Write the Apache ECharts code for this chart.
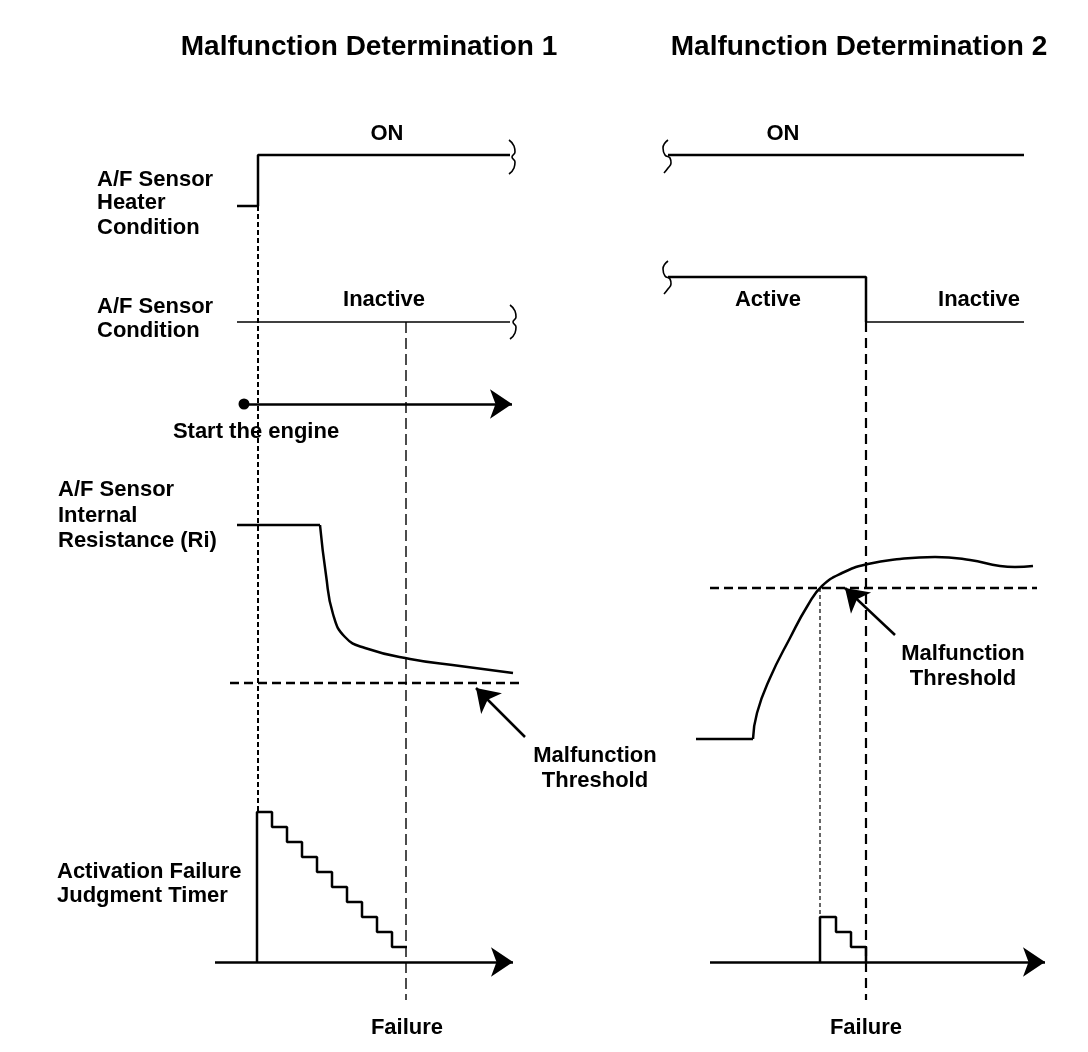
<!DOCTYPE html>
<html>
<head>
<meta charset="utf-8">
<script src="https://cdn.jsdelivr.net/npm/echarts@6/dist/echarts.min.js"></script>
<style>
html, body { margin: 0; padding: 0; background: #fff; }
#main { width: 1088px; height: 1052px; }
</style>
</head>
<body>
<div id="main"></div>
<script>
// diagram data (x = time, y = level, both in diagram units)
var heater1 = [[237, 206], [258, 206], [258, 155], [510, 155]];
var heater2 = [[668, 155], [1024, 155]];
var sensor1 = [[237, 322], [510, 322]];
var sensor2 = [[668, 277], [866, 277], [866, 322], [1024, 322]];
var ri1 = [[237, 525], [320, 525], [326, 575], [333, 614], [345, 637], [365, 648], [410, 659], [460, 666], [513, 673]];
var ri2 = [[696, 739], [753, 739], [757, 713], [770, 678], [790, 638], [808, 605], [822, 586], [842, 573], [868, 564], [900, 559], [935, 557], [970, 560], [1000, 566], [1015, 567], [1033, 566]];
var timer1 = [[257, 962], [257, 812], [272, 827], [287, 842], [302, 857], [317, 872], [332, 887], [347, 902], [362, 917], [377, 932], [392, 947], [407, 947]];
var timer2 = [[820, 962], [820, 917], [836, 932], [851, 947], [866, 962]];
var threshold1 = [[230, 683], [523, 683]];
var threshold2 = [[710, 588], [1037, 588]];
var heaterOnMark1 = [[258, 206], [258, 812]];
var failureMark1 = [[406, 322], [406, 1000]];
var failureMark2 = [[866, 322], [866, 1000]];
var crossMark2 = [[820, 588], [820, 917]];
var engineStart = [[244, 404]];
var squiggle = [[-2, -17], [3, -11], [4, -5], [1, 0], [4, 5], [3, 11], [-2, 17]];
var squiggleMirror = [[1, -17], [-4, -9], [-2, -2], [3, 1], [4, 6], [1, 11], [-3, 16]];
var breaksRight = [[511, 157], [512, 322]];
var breaksLeft = [[667, 157], [667, 278]];
var arrows = [
  [[244, 404], [512, 404]],
  [[215, 962], [513, 962]],
  [[710, 962], [1045, 962]],
  [[525, 737], [476, 688]],
  [[895, 635], [845, 588]]
];

var labels = [
  ['Malfunction Determination 1', 369, 47, 'center', 28],
  ['Malfunction Determination 2', 859, 47, 'center', 28],
  ['ON', 387, 134, 'center', 22],
  ['ON', 783, 134, 'center', 22],
  ['A/F Sensor', 97, 180, 'left', 22],
  ['Heater', 97, 203, 'left', 22],
  ['Condition', 97, 228, 'left', 22],
  ['Inactive', 384, 300, 'center', 22],
  ['Active', 768, 300, 'center', 22],
  ['Inactive', 979, 300, 'center', 22],
  ['A/F Sensor', 97, 307, 'left', 22],
  ['Condition', 97, 331, 'left', 22],
  ['Start the engine', 256, 432, 'center', 22],
  ['A/F Sensor', 58, 490, 'left', 22],
  ['Internal', 58, 516, 'left', 22],
  ['Resistance (Ri)', 58, 541, 'left', 22],
  ['Malfunction', 595, 756, 'center', 22],
  ['Threshold', 595, 781, 'center', 22],
  ['Malfunction', 963, 654, 'center', 22],
  ['Threshold', 963, 679, 'center', 22],
  ['Activation Failure', 57, 872, 'left', 22],
  ['Judgment Timer', 57, 896, 'left', 22],
  ['Failure', 407, 1028, 'center', 22],
  ['Failure', 866, 1028, 'center', 22]
];

var myChart = echarts.init(document.getElementById('main'));

function path(data, width, dash, extra) {
  var s = {
    type: 'line',
    data: data,
    symbol: 'none',
    animation: false,
    silent: true,
    lineStyle: { color: '#000', width: width, type: dash || 'solid' }
  };
  for (var k in extra) s[k] = extra[k];
  return s;
}

function shifted(shape, c) {
  return shape.map(function (p) { return [c[0] + p[0], c[1] + p[1]]; });
}

var series = [
  path(heater1, 2.5),
  path(heater2, 2.5),
  path(sensor1, 1.4),
  path(sensor2.slice(0, 3), 2.5),
  path(sensor2.slice(2), 1.4),
  path(ri1.slice(0, 2), 2.5),
  path(ri1.slice(1), 2.5, null, { smooth: 0.5 }),
  path(ri2.slice(0, 2), 2.5),
  path(ri2.slice(1), 2.5, null, { smooth: 0.5 }),
  path(timer1, 2.5, null, { step: 'end' }),
  path(timer2, 2.5, null, { step: 'end' }),
  path(threshold1, 2.5, [9, 5]),
  path(threshold2, 2.5, [9, 5]),
  path(heaterOnMark1, 2, [5, 3]),
  path(failureMark1, 1.4, [11, 5]),
  path(failureMark2, 2.2, [10, 6]),
  path(crossMark2, 1.2, [4, 3])
];

breaksRight.forEach(function (c) {
  series.push(path(shifted(squiggle, c), 1.6, null, { smooth: 0.5 }));
});
breaksLeft.forEach(function (c) {
  series.push(path(shifted(squiggleMirror, c), 1.6, null, { smooth: 0.5 }));
});

series.push({
  type: 'lines',
  coordinateSystem: 'cartesian2d',
  animation: false,
  silent: true,
  symbol: ['none', 'arrow'],
  symbolSize: [11, 22],
  lineStyle: { color: '#000', width: 2.5, opacity: 1, curveness: 0 },
  data: arrows.map(function (a) { return { coords: a }; })
});

series.push({
  type: 'scatter',
  data: engineStart,
  symbol: 'circle',
  symbolSize: 11,
  animation: false,
  silent: true,
  itemStyle: { color: '#000', opacity: 1 }
});

var option = {
  backgroundColor: '#fff',
  grid: { left: 0, right: 0, top: 0, bottom: 0 },
  xAxis: { type: 'value', min: 0, max: 1088, show: false },
  yAxis: { type: 'value', min: 0, max: 1052, inverse: true, show: false },
  series: series,
  graphic: labels.map(function (l) {
    return {
      type: 'text',
      x: l[1],
      y: l[2],
      silent: true,
      style: {
        text: l[0],
        fill: '#000',
        font: 'bold ' + l[4] + 'px "Liberation Sans", Arial, sans-serif',
        align: l[3],
        verticalAlign: 'middle'
      }
    };
  })
};

myChart.setOption(option);
</script>
</body>
</html>
